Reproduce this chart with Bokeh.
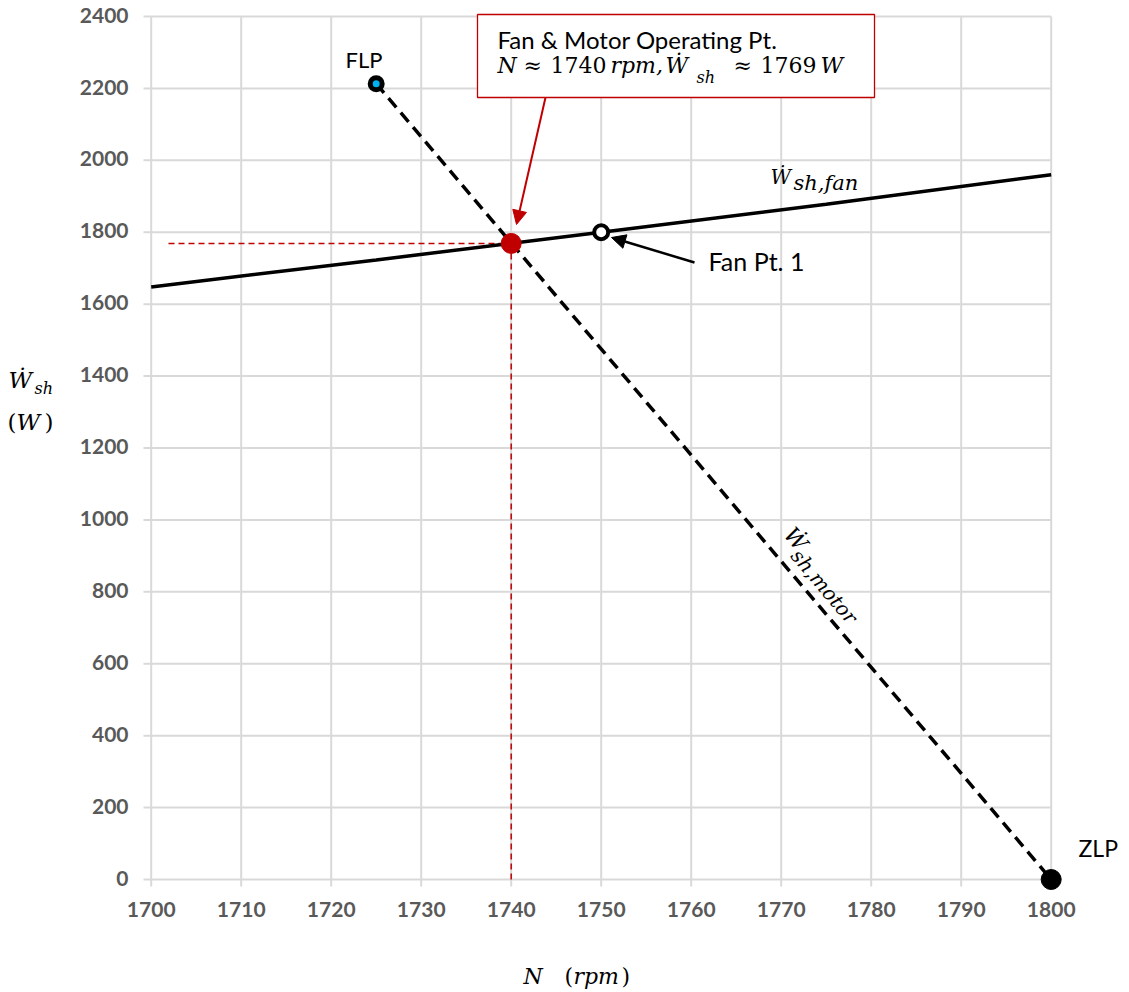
import math
from bokeh.plotting import figure
from bokeh.models import Range1d, Label, BoxAnnotation, Arrow, NormalHead
from bokeh.core.properties import value
from bokeh.embed import file_html
from bokeh.resources import INLINE

# ---------------- data ----------------
x_ticks = [1700, 1710, 1720, 1730, 1740, 1750, 1760, 1770, 1780, 1790, 1800]
y_ticks = [0, 200, 400, 600, 800, 1000, 1200, 1400, 1600, 1800, 2000, 2200, 2400]
x_tick_labels = [str(v) for v in x_ticks]
y_tick_labels = [str(v) for v in y_ticks]

fan_n = [1700, 1725, 1750, 1775, 1800]
fan_w = [1648, 1723, 1800, 1878, 1960]

motor_n = [1725, 1800]
motor_w = [2213, 0]

flp_n, flp_w = [1725], [2213]
zlp_n, zlp_w = [1800], [0]
fanpt_n, fanpt_w = [1750], [1800]
op_n, op_w = [1740], [1769]

# ---------------- layout (page pixels) ----------------
X0PX, PPX = 150.7, 9.0          # page px of x=1700, px per rpm
Y0PX, PPY = 879.0, 863.0 / 2400  # page px of y=0, px per W

def dx(px):
    return x_ticks[0] + (px - X0PX) / PPX

def dy(py):
    return y_ticks[0] + (Y0PX - py) / PPY

W_FIG, H_FIG = 1128, 990
K_SANS, K_SERIF = 0.40, 0.42   # baseline correction (fraction of font size)

p = figure(width=W_FIG, height=H_FIG,
           x_range=Range1d(dx(0), dx(W_FIG)), y_range=Range1d(dy(H_FIG), dy(0)),
           output_backend="svg", toolbar_location=None, title=None,
           x_axis_location=None, y_axis_location=None,
           min_border=0)
p.outline_line_color = None
p.xgrid.visible = False
p.ygrid.visible = False
p.background_fill_color = "white"
p.border_fill_color = "white"

# grid lines (with small outward tick stubs)
GRID = "#d9d9d9"
p.segment(x0=x_ticks, x1=x_ticks, y0=[dy(886)] * len(x_ticks), y1=[y_ticks[-1]] * len(x_ticks),
          line_color=GRID, line_width=2)
p.segment(x0=[dx(143)] * len(y_ticks), x1=[x_ticks[-1]] * len(y_ticks), y0=y_ticks, y1=y_ticks,
          line_color=GRID, line_width=2)

# tick labels
TICK_COLOR = "#595959"
TS = 21
p.text(x=x_ticks, y=[dy(917 - K_SANS * TS)] * len(x_ticks), text=x_tick_labels,
       text_font=value("Lato"), text_font_style="bold", text_font_size=f"{TS}px",
       text_color=TICK_COLOR, text_align="center", text_baseline="alphabetic")
p.text(x=[dx(128)] * len(y_ticks), y=y_ticks, text=y_tick_labels,
       text_font=value("Lato"), text_font_style="bold", text_font_size=f"{TS}px",
       text_color=TICK_COLOR, text_align="right", text_baseline="alphabetic",
       y_offset=7 - K_SANS * TS)

RED = "#c00000"
# red guide lines to operating point
p.segment(x0=[dx(168)], x1=op_n, y0=op_w, y1=op_w, line_color=RED, line_width=1.5, line_dash="6 4")
p.segment(x0=op_n, x1=op_n, y0=op_w, y1=[y_ticks[0]], line_color=RED, line_width=1.5, line_dash="6 4")

# motor line
p.line(motor_n, motor_w, line_color="black", line_width=3.5, line_dash="12 7")
# fan line
p.line(fan_n, fan_w, line_color="black", line_width=3.5)

# markers
p.scatter(flp_n, flp_w, size=12, fill_color="#00b0f0", line_color="black", line_width=5)
p.scatter(fanpt_n, fanpt_w, size=14, fill_color="white", line_color="black", line_width=4)
p.scatter(op_n, op_w, size=20, fill_color=RED, line_color=RED, line_width=1)
p.scatter(zlp_n, zlp_w, size=20, fill_color="black", line_color="black", line_width=1)

# annotation box + arrows
p.add_layout(BoxAnnotation(left=dx(477), right=dx(874), top=dy(14), bottom=dy(97),
                           fill_color="white", fill_alpha=1.0, line_color=RED, line_width=1.3,
                           line_alpha=1.0))
p.add_layout(Arrow(end=NormalHead(size=14, fill_color=RED, line_color=RED),
                   x_start=dx(545), y_start=dy(97), x_end=dx(516), y_end=dy(224),
                   line_color=RED, line_width=2))
p.add_layout(Arrow(end=NormalHead(size=14, fill_color="black", line_color="black"),
                   x_start=dx(694), y_start=dy(262), x_end=dx(611), y_end=dy(237),
                   line_color="black", line_width=2.5))

SERIF = "DejaVu Serif"

def lab(text, px, py, size, font="Lato", style="normal", color="black", angle=0.0):
    k = K_SERIF if font == SERIF else K_SANS
    if angle == 0.0:
        px_adj, py_adj = px, py - k * size
    else:
        # shift "up" in the rotated text frame
        px_adj = px - k * size * math.sin(-angle) * -1.0 * -1.0
        py_adj = py - k * size * math.cos(angle)
        px_adj = px + k * size * math.sin(angle)
    p.add_layout(Label(x=dx(px_adj), y=dy(py_adj), text=text, text_font=font,
                       text_font_size=f"{size}px", text_font_style=style,
                       text_color=color, angle=angle, text_align="left",
                       text_baseline="alphabetic"))

# point labels
lab("FLP", 345, 68, 22)
lab("ZLP", 1078, 857, 23)
lab("Fan Pt. 1", 708, 270, 25)

# box text
lab("Fan & Motor Operating Pt.", 497, 49, 24)
lab("N", 497, 74, 22, SERIF, "italic")
lab("≈", 523, 74, 22, SERIF)
lab("1740", 550, 74, 22, SERIF)
lab("rpm,", 610, 74, 22, SERIF, "italic")
lab("Ẇ", 665, 74, 22, SERIF, "italic")
lab("sh", 696, 84, 16, SERIF, "italic")
lab("≈", 733, 74, 22, SERIF)
lab("1769", 760, 74, 22, SERIF)
lab("W", 820, 74, 22, SERIF, "italic")

# fan curve label
lab("Ẇ", 770, 185, 20, SERIF, "italic")
lab("sh,fan", 793, 191, 21, SERIF, "italic")

# motor line label (rotated along the line)
ang = -math.atan2((motor_w[0] - motor_w[1]) * PPY, (motor_n[1] - motor_n[0]) * PPX)
lab("Ẇ", 795, 536, 22, SERIF, "italic", angle=ang)
lab("sh,motor", 801, 557, 20, SERIF, "italic", angle=ang)

# y axis label
lab("Ẇ", 8, 389, 23, SERIF, "italic")
lab("sh", 34, 395, 16, SERIF, "italic")
lab("(", 7, 431, 23, SERIF)
lab("W", 16, 431, 23, SERIF, "italic")
lab(")", 44, 431, 23, SERIF)

# x axis label
lab("N", 523, 985, 22, SERIF, "italic")
lab("(", 564, 985, 22, SERIF)
lab("rpm", 573, 985, 22, SERIF, "italic")
lab(")", 621, 985, 22, SERIF)

open("out.html", "w").write(file_html(p, INLINE))
